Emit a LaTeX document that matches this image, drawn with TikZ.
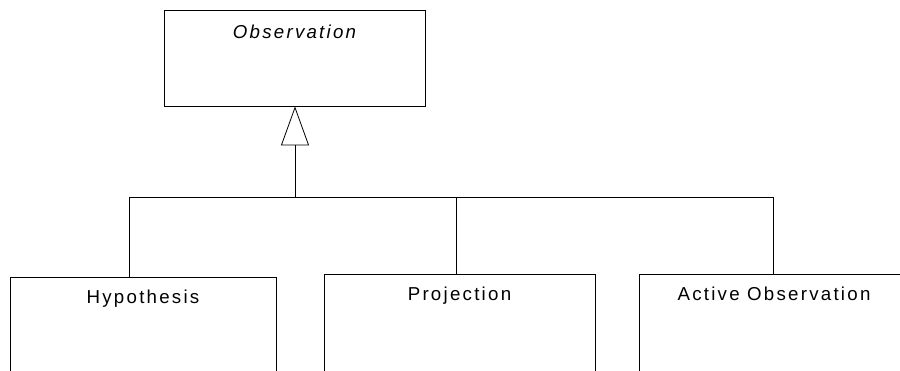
\documentclass[tikz,border=0pt]{standalone}
\usepackage{fontspec}
\usepackage{tikz}
\usetikzlibrary{arrows.meta}
\usetikzlibrary{positioning}
\newfontfamily\umlfont{Liberation Sans}[LetterSpace=12]
\tikzset{classbox/.style = {draw, line width=0.8pt, minimum height=96pt, inner sep=0pt},
         classname/.style = {anchor=base, inner sep=0pt, font=\umlfont\fontsize{18.7}{21}\selectfont},
         inherit/.style = {line width=0.8pt, -{Triangle[open, length=39pt, width=28pt, line width=0.8pt]}},
         link/.style = {line width=0.8pt}}

\begin{document}
\begin{tikzpicture}[x=1pt, y=1pt]
    \useasboundingbox (0, 0) rectangle (900, -371);
    \clip (0, 0) rectangle (900, -371);
    \node [classbox, minimum width=261pt] (obs) at (294.5, -58) {};
    \node [classname, font=\umlfont\itshape\fontsize{18.7}{21}\selectfont] (obstext) at ([yshift=-28.5pt]obs.north) {Observation};
    \node [classbox, minimum width=266pt, minimum height=120pt, anchor=north] (hyp) at (143, -277) {};
    \node [classbox, minimum width=271pt, minimum height=120pt, anchor=north] (proj) at (459.5, -274) {};
    \node [classbox, minimum width=270pt, minimum height=120pt, anchor=north] (act) at (774, -274) {};
    \node [classname] (hyptext) at ([yshift=-26.5pt]hyp.north) {Hypothesis};
    \node [classname] (projtext) at ([yshift=-26.5pt]proj.north) {Projection};
    \node [classname] (acttext) at ([yshift=-26.5pt]act.north) {Active Observation};
    \coordinate (fork) at (295, -197);
    \draw [inherit] (fork) -- (obs.south -| fork);
    \draw [link] ([xshift=-14pt]hyp.north) |- (fork);
    \draw [link] ([xshift=-3.5pt]proj.north) |- (fork);
    \draw [link] ([xshift=-1pt]act.north) |- (fork);
\end{tikzpicture}
\end{document}
